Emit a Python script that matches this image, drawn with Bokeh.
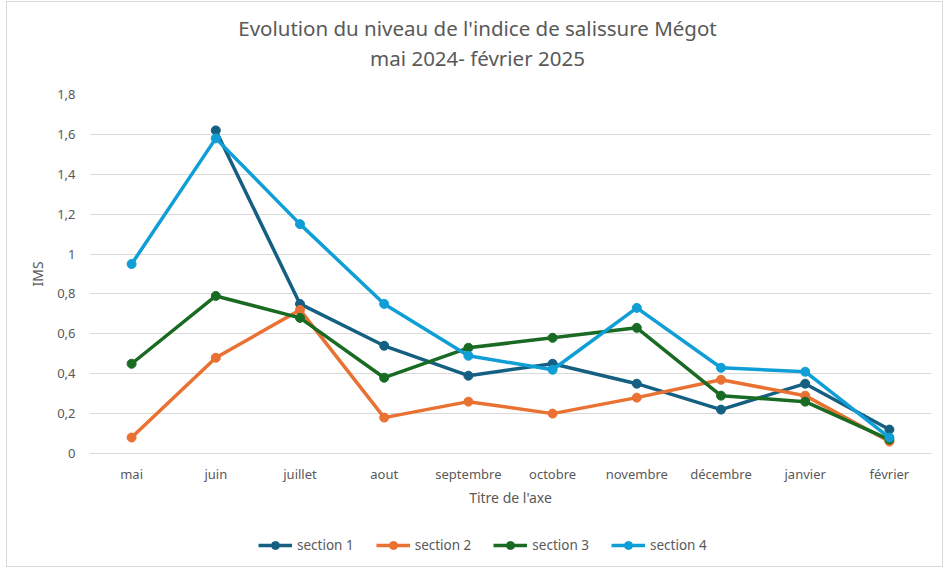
from bokeh.plotting import figure
from bokeh.layouts import column
from bokeh.models import (FactorRange, Range1d, FixedTicker, CustomJSTickFormatter,
                          Legend, LegendItem, Label)
from bokeh.embed import file_html
from bokeh.resources import INLINE

nan = float("nan")
months = ["mai", "juin", "juillet", "aout", "septembre", "octobre", "novembre", "décembre", "janvier", "février"]
section1 = [nan, 1.62, 0.75, 0.54, 0.39, 0.45, 0.35, 0.22, 0.35, 0.12]
section2 = [0.08, 0.48, 0.72, 0.18, 0.26, 0.20, 0.28, 0.37, 0.29, 0.06]
section3 = [0.45, 0.79, 0.68, 0.38, 0.53, 0.58, 0.63, 0.29, 0.26, 0.07]
section4 = [0.95, 1.58, 1.15, 0.75, 0.49, 0.42, 0.73, 0.43, 0.41, 0.08]
series_names = ["section 1", "section 2", "section 3", "section 4"]
y_ticks = [0, 0.2, 0.4, 0.6, 0.8, 1.0, 1.2, 1.4, 1.6, 1.8]
title_line1 = "Evolution du niveau de l'indice de salissure Mégot"
title_line2 = "mai 2024- février 2025"
colors = ["#156082", "#E97132", "#196B24", "#0F9ED5"]

FONT = "Noto Sans"
GRAY = "#595959"
W = 935


def blank(height):
    f = figure(width=W, height=height, x_range=Range1d(0, 1), y_range=Range1d(0, 1),
               x_axis_location=None, y_axis_location=None,
               output_backend="svg", toolbar_location=None,
               min_border_left=0, min_border_right=0, min_border_top=0, min_border_bottom=0)
    f.outline_line_color = None
    f.grid.visible = False
    return f


# ---- header (title) ----
head = blank(79)
for txt, yy in ((title_line1, 54), (title_line2, 24)):
    head.add_layout(Label(x=388, y=yy, x_units="screen", y_units="screen", text=txt,
                          text_align="center", text_baseline="middle",
                          text_font=FONT, text_font_size="20.5px", text_color=GRAY))

# ---- main chart ----
p = figure(width=W, height=430, title=None,
           x_range=FactorRange(factors=months, range_padding=0),
           y_range=Range1d(0, 1.8),
           output_backend="svg", toolbar_location=None,
           min_border_left=82, min_border_right=11, min_border_top=13, min_border_bottom=58)

p.outline_line_color = None
p.xgrid.grid_line_color = None
p.ygrid.grid_line_color = "#d9d9d9"
p.ygrid.grid_line_width = 1

p.yaxis.ticker = FixedTicker(ticks=y_ticks)
p.yaxis.formatter = CustomJSTickFormatter(code="""
const s = (Math.round(tick*10)/10).toString();
return s.replace('.', ',');
""")
p.yaxis.axis_line_color = None
p.yaxis.major_tick_line_color = None
p.yaxis.minor_tick_line_color = None
p.yaxis.major_tick_out = 0
p.yaxis.major_label_standoff = 14
p.yaxis.axis_label = "IMS"
p.yaxis.axis_label_standoff = 7

p.xaxis.axis_line_color = "#d9d9d9"
p.xaxis.major_tick_line_color = None
p.xaxis.major_tick_out = 0
p.xaxis.major_label_standoff = 11
p.xaxis.axis_label = "Titre de l'axe"
p.xaxis.axis_label_standoff = 2

for ax in (p.xaxis, p.yaxis):
    ax.major_label_text_font = FONT
    ax.major_label_text_font_size = "13px"
    ax.major_label_text_color = GRAY
    ax.axis_label_text_font = FONT
    ax.axis_label_text_font_size = "14px"
    ax.axis_label_text_font_style = "normal"
    ax.axis_label_text_color = GRAY

# ---- footer (legend) ----
foot = blank(55)
items = []
for name, vals, col in zip(series_names, [section1, section2, section3, section4], colors):
    p.line(months, vals, line_color=col, line_width=3.5)
    p.scatter(months, vals, marker="circle", size=9, fill_color=col, line_color=col)
    # legend-only renderers (no visible data), used to draw the legend swatches
    lr = foot.line(x=[nan], y=[nan], line_color=col, line_width=3.5)
    sr = foot.scatter(x=[nan], y=[nan], marker="circle", size=10, fill_color=col, line_color=col)
    items.append(LegendItem(label=name, renderers=[lr, sr]))

legend = Legend(items=items, orientation="horizontal", location=(169, 11),
                glyph_width=34, glyph_height=20, label_standoff=5, spacing=22,
                padding=0, margin=0, border_line_color=None, background_fill_alpha=0,
                label_text_font=FONT, label_text_font_size="13.5px", label_text_color=GRAY)
foot.add_layout(legend, "center")

layout = column(head, p, foot, spacing=0)
layout.styles = {"border": "1px solid #d9d9d9", "margin-left": "6px", "margin-top": "1px"}

open("out.html", "w").write(file_html(layout, INLINE))
